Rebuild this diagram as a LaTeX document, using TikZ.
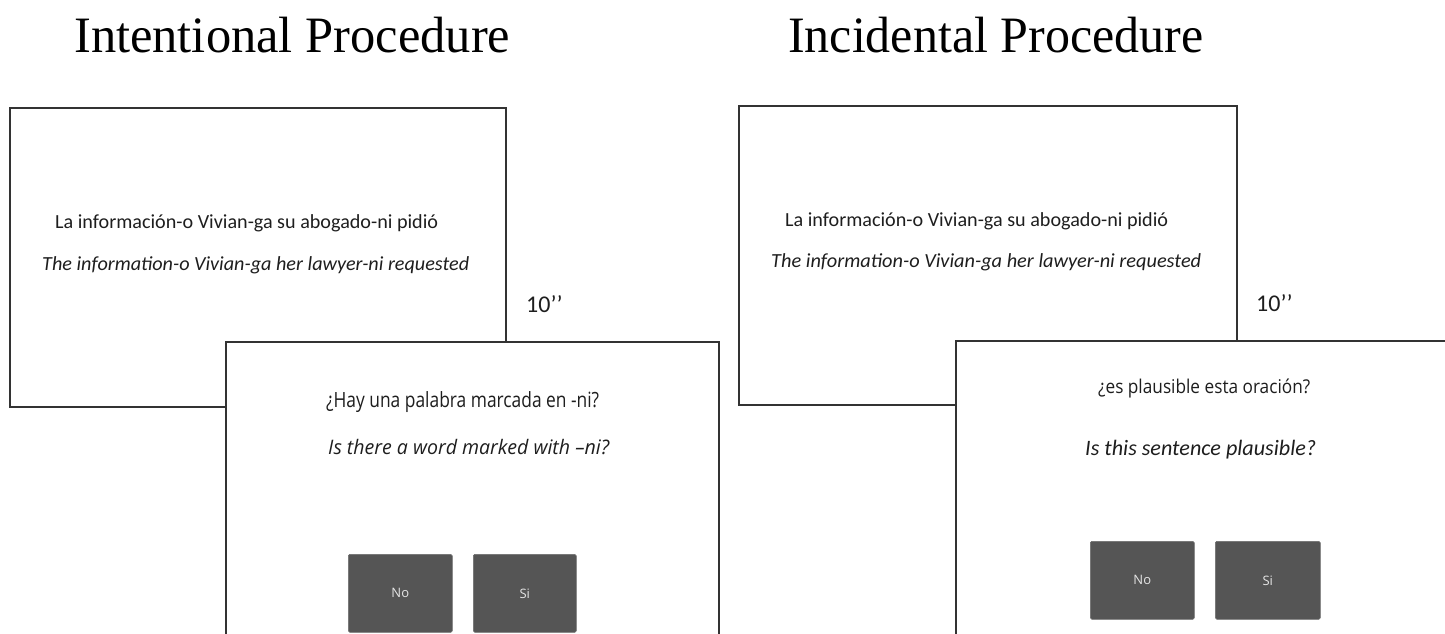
\documentclass[tikz,border=0pt]{standalone}
\usepackage{fontspec}
\usepackage{graphicx}
\newfontfamily\titlefont{Liberation Serif}
\newfontfamily\calib{Carlito}
\newfontfamily\osans{Open Sans}
\newcommand{\fitw}[2]{\resizebox{#1}{\height}{#2}}
\definecolor{linegray}{HTML}{333333}
\definecolor{btngray}{HTML}{555555}
\definecolor{btntext}{HTML}{E6E6E6}
\definecolor{txtdark}{HTML}{1E1E1E}
\tikzset{
  screen/.style={draw=linegray, line width=1.6pt, fill=white, anchor=north west, inner sep=0pt},
  txt/.style={anchor=base west, inner sep=0pt, text=txtdark},
  ttl/.style={anchor=base west, inner sep=0pt, text=black},
  btn/.style={fill=btngray, draw=btngray!85!white, line width=0.6pt, rounded corners=1.5pt,
    anchor=north west, inner sep=0pt, text=btntext, font=\osans\fontsize{13}{15}\selectfont,
    minimum width=104pt, minimum height=78pt}
}
\begin{document}
\begin{tikzpicture}[x=1pt,y=-1pt]
\useasboundingbox (0,0) rectangle (1445,633);
\clip (0,0) rectangle (1445,633);
\fill[white] (0,0) rectangle (1445,633);

% titles
\node[ttl] (titleL) at (74,52) {\fitw{436pt}{\titlefont\fontsize{51}{58}\selectfont Intentional Procedure}};
\node[ttl] (titleR) at (788,52) {\fitw{415pt}{\titlefont\fontsize{51}{58}\selectfont Incidental Procedure}};

% ---------- left: intentional ----------
\node[screen, minimum width=496pt, minimum height=299pt] (A1) at (9,107) {};
\node[txt] (A1a) at (55,228) {\fitw{383pt}{\calib\fontsize{20}{24}\selectfont La información-o Vivian-ga su abogado-ni pidió}};
\node[txt] (A1b) at (42,270) {\fitw{427pt}{\calib\itshape\fontsize{20}{24}\selectfont The information-o Vivian-ga her lawyer-ni requested}};
\node[txt] (tL) at (526,312) {\calib\fontsize{24}{28}\selectfont 10’’};

\node[screen, minimum width=493pt, minimum height=360pt] (A2) at (225,341) {};
\node[txt] (A2a) at (326,407) {\fitw{273pt}{\osans\fontsize{21}{25}\selectfont ¿Hay una palabra marcada en -ni?}};
\node[txt] (A2b) at (328,454) {\fitw{281pt}{\osans\itshape\fontsize{20}{24}\selectfont Is there a word marked with –ni?}};
\node[btn] (noL) at (348,554) {No};
\node[btn, minimum width=103pt] (siL) at (473,554) {Si};

% ---------- right: incidental ----------
\node[screen, minimum width=498pt, minimum height=299pt] (B1) at (738,105) {};
\node[txt] (B1a) at (785,226) {\fitw{383pt}{\calib\fontsize{20}{24}\selectfont La información-o Vivian-ga su abogado-ni pidió}};
\node[txt] (B1b) at (771,267) {\fitw{430pt}{\calib\itshape\fontsize{20}{24}\selectfont The information-o Vivian-ga her lawyer-ni requested}};
\node[txt] (tR) at (1256,311) {\calib\fontsize{24}{28}\selectfont 10’’};

\node[screen, minimum width=510pt, minimum height=360pt] (B2) at (955,340) {};
\node[txt] (B2a) at (1098,393) {\fitw{212pt}{\osans\fontsize{19}{23}\selectfont ¿es plausible esta oración?}};
\node[txt] (B2b) at (1085,455) {\fitw{231pt}{\calib\itshape\fontsize{22}{26}\selectfont Is this sentence plausible?}};
\node[btn] (noR) at (1090,541) {No};
\node[btn, minimum width=105pt] (siR) at (1215,541) {Si};
\end{tikzpicture}
\end{document}
